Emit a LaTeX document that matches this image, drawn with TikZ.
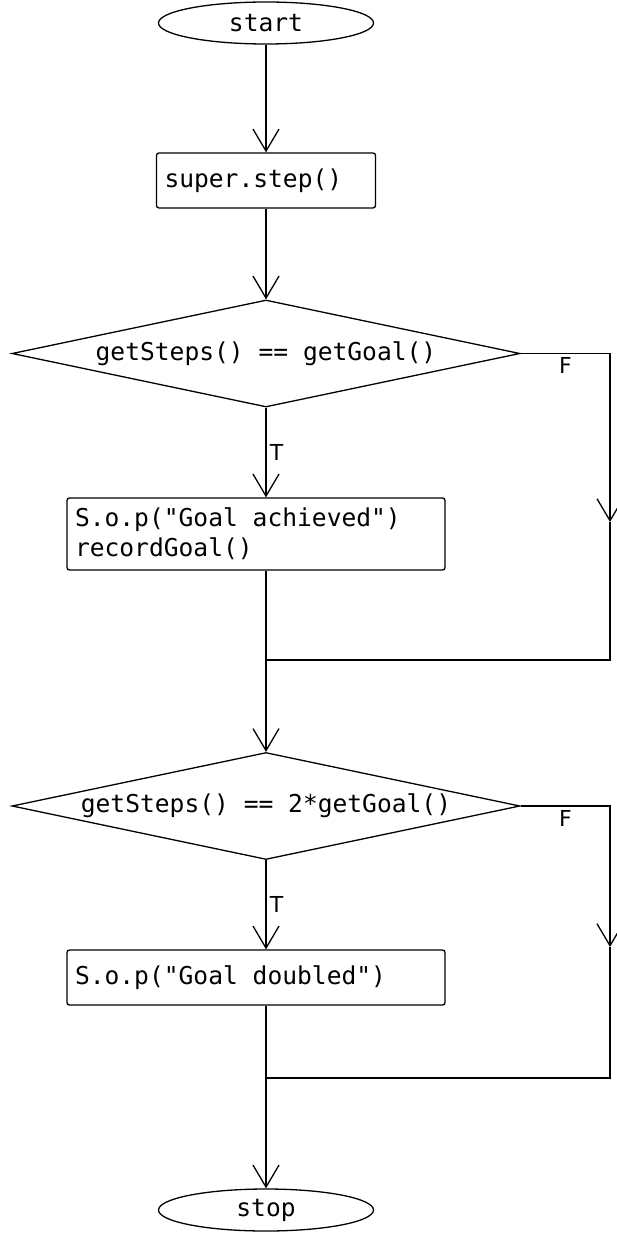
\documentclass[tikz,border=0pt]{standalone}
\usepackage{fontspec}
\setmonofont{DejaVu Sans Mono}
\setsansfont{DejaVu Sans}
\usetikzlibrary{shapes.geometric,arrows.meta}
\begin{document}
\begin{tikzpicture}[x=1pt, y=-1pt, line width=1.3pt,
  font=\ttfamily\fontsize{24.6}{30}\selectfont,
  term/.style = {draw, ellipse, minimum width=215, minimum height=42, inner sep=0},
  proc/.style = {draw, rectangle, rounded corners=2.5, inner sep=8},
  cond/.style = {draw, diamond, shape aspect=4.75, minimum width=508, minimum height=107, inner sep=0},
  lbl/.style = {font=\sffamily\fontsize{22}{26}\selectfont},
  >={Straight Barb[length=22pt, width=26pt]}]
\useasboundingbox (0,0) rectangle (617,1236);

\node[term] (1) at (266,23) {start};
\node[proc, minimum height=55] (2) at (266,180.5) {\parbox{203pt}{super.step()}};
\node[cond] (3) at (266,353.5) {getSteps() == getGoal()};
\node[proc, minimum height=72] (4) at (256,534) {\parbox{362pt}{S.o.p("Goal achieved")\\recordGoal()}};
\node[cond] (5) at (266,806) {getSteps() == 2*getGoal()};
\node[proc, minimum height=55] (6) at (256,977.5) {\parbox{362pt}{S.o.p("Goal doubled")}};
\node[term] (7) at (266,1210) {stop};

\coordinate (f1) at (610,353.5);
\coordinate (f2) at (610,522);
\coordinate (f3) at (610,660);
\coordinate (j1) at (266,660);
\coordinate (f4) at (610,806);
\coordinate (f5) at (610,947);
\coordinate (f6) at (610,1078);
\coordinate (j2) at (266,1078);

\draw[->] (1) -- (2);
\draw[->] (2) -- (3);

\draw[->] (3) -- node[lbl, right] {T} (3.south |- 4.north);
\draw[->] (3.east) -- node[lbl, below] {F} (f1) -- (f2);
\draw (f2) -- (f3) -- (j1);
\draw (3.south |- 4.south) -- (j1);
\draw[->] (j1) -- (5);

\draw[->] (5) -- node[lbl, right] {T} (5.south |- 6.north);
\draw[->] (5.east) -- node[lbl, below] {F} (f4) -- (f5);
\draw (f5) -- (f6) -- (j2);
\draw (5.south |- 6.south) -- (j2);
\draw[->] (j2) -- (7);
\end{tikzpicture}
\end{document}
